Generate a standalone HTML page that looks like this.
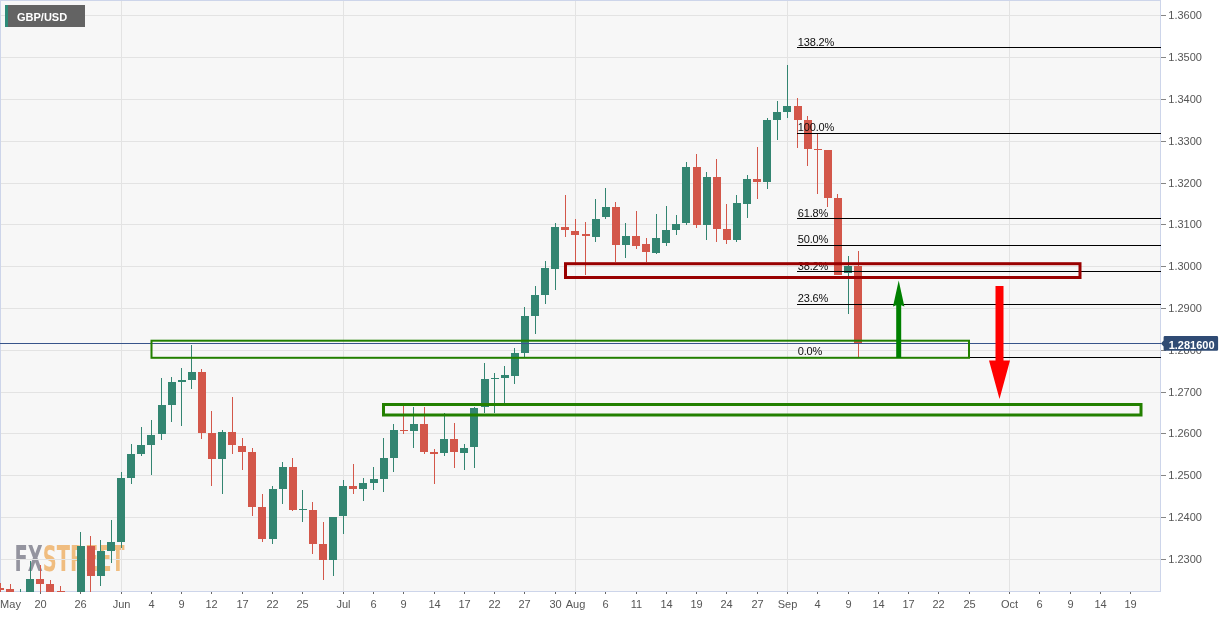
<!DOCTYPE html>
<html lang="en"><head><meta charset="utf-8"><title>GBP/USD daily chart</title>
<style>html,body{margin:0;padding:0;background:#fff}body{width:1231px;height:617px;overflow:hidden}svg{display:block}text{font-family:"Liberation Sans",Arial,sans-serif}</style></head><body>
<svg width="1231" height="617" viewBox="0 0 1231 617">
<defs><clipPath id="c"><rect x="0" y="0" width="1161" height="592"/></clipPath></defs>
<rect x="0" y="0" width="1231" height="617" fill="#fff"/>
<rect x="0" y="0" width="1161" height="592" fill="#f7f7f7"/>
<text transform="translate(14.6,571.3) scale(0.543,1)" font-family="DejaVu Sans, Liberation Sans, sans-serif" style="font-family:'DejaVu Sans','Liberation Sans',sans-serif" font-size="35.7" font-weight="700"><tspan fill="#94949f">FX</tspan><tspan fill="#f0bd80">STREET</tspan></text>
<g stroke="#e3e3e3" stroke-width="1" shape-rendering="crispEdges">
<line x1="0" y1="15.5" x2="1161" y2="15.5"/>
<line x1="0" y1="57.5" x2="1161" y2="57.5"/>
<line x1="0" y1="99.5" x2="1161" y2="99.5"/>
<line x1="0" y1="141.5" x2="1161" y2="141.5"/>
<line x1="0" y1="183.5" x2="1161" y2="183.5"/>
<line x1="0" y1="224.5" x2="1161" y2="224.5"/>
<line x1="0" y1="266.5" x2="1161" y2="266.5"/>
<line x1="0" y1="308.5" x2="1161" y2="308.5"/>
<line x1="0" y1="350.5" x2="1161" y2="350.5"/>
<line x1="0" y1="392.5" x2="1161" y2="392.5"/>
<line x1="0" y1="433.5" x2="1161" y2="433.5"/>
<line x1="0" y1="475.5" x2="1161" y2="475.5"/>
<line x1="0" y1="517.5" x2="1161" y2="517.5"/>
<line x1="0" y1="559.5" x2="1161" y2="559.5"/>
<line x1="121.5" y1="0" x2="121.5" y2="592"/>
<line x1="343.5" y1="0" x2="343.5" y2="592"/>
<line x1="575.5" y1="0" x2="575.5" y2="592"/>
<line x1="787.5" y1="0" x2="787.5" y2="592"/>
<line x1="1009.5" y1="0" x2="1009.5" y2="592"/>
</g>
<g stroke="#cdd5ea" stroke-width="1" fill="none" shape-rendering="crispEdges"><line x1="0" y1="0.5" x2="1161" y2="0.5"/><line x1="0.5" y1="0" x2="0.5" y2="592"/><line x1="1160.5" y1="0" x2="1160.5" y2="592"/><line x1="0" y1="591.5" x2="1161" y2="591.5"/></g>
<g clip-path="url(#c)" shape-rendering="crispEdges">
<rect x="0" y="583" width="1" height="17" fill="#d3574a"/>
<rect x="-4" y="588" width="8" height="2" fill="#d3574a"/>
<rect x="10" y="584" width="1" height="16" fill="#d3574a"/>
<rect x="6" y="589" width="8" height="11" fill="#d3574a"/>
<rect x="20" y="589" width="1" height="11" fill="#338571"/>
<rect x="16" y="596" width="8" height="4" fill="#338571"/>
<rect x="30" y="561" width="1" height="39" fill="#338571"/>
<rect x="26" y="579" width="8" height="21" fill="#338571"/>
<rect x="40" y="565" width="1" height="35" fill="#d3574a"/>
<rect x="36" y="579" width="8" height="5" fill="#d3574a"/>
<rect x="50" y="580" width="1" height="20" fill="#d3574a"/>
<rect x="46" y="584" width="8" height="8" fill="#d3574a"/>
<rect x="60" y="586" width="1" height="14" fill="#d3574a"/>
<rect x="57" y="591" width="8" height="9" fill="#d3574a"/>
<rect x="80" y="532" width="1" height="68" fill="#338571"/>
<rect x="77" y="546" width="8" height="54" fill="#338571"/>
<rect x="90" y="536" width="1" height="64" fill="#d3574a"/>
<rect x="87" y="546" width="8" height="30" fill="#d3574a"/>
<rect x="100" y="540" width="1" height="46" fill="#338571"/>
<rect x="97" y="551" width="8" height="25" fill="#338571"/>
<rect x="111" y="520" width="1" height="43" fill="#338571"/>
<rect x="107" y="542" width="8" height="9" fill="#338571"/>
<rect x="121" y="472" width="1" height="76" fill="#338571"/>
<rect x="117" y="478" width="8" height="64" fill="#338571"/>
<rect x="131" y="444" width="1" height="40" fill="#338571"/>
<rect x="127" y="454" width="8" height="24" fill="#338571"/>
<rect x="141" y="427" width="1" height="29" fill="#338571"/>
<rect x="137" y="445" width="8" height="9" fill="#338571"/>
<rect x="151" y="420" width="1" height="55" fill="#338571"/>
<rect x="147" y="435" width="8" height="10" fill="#338571"/>
<rect x="161" y="378" width="1" height="62" fill="#338571"/>
<rect x="158" y="405" width="8" height="29" fill="#338571"/>
<rect x="171" y="377" width="1" height="45" fill="#338571"/>
<rect x="168" y="382" width="8" height="23" fill="#338571"/>
<rect x="181" y="368" width="1" height="58" fill="#338571"/>
<rect x="178" y="380" width="8" height="2" fill="#338571"/>
<rect x="191" y="345" width="1" height="44" fill="#338571"/>
<rect x="188" y="372" width="8" height="8" fill="#338571"/>
<rect x="201" y="369" width="1" height="70" fill="#d3574a"/>
<rect x="198" y="372" width="8" height="61" fill="#d3574a"/>
<rect x="211" y="411" width="1" height="75" fill="#d3574a"/>
<rect x="208" y="433" width="8" height="26" fill="#d3574a"/>
<rect x="222" y="430" width="1" height="64" fill="#338571"/>
<rect x="218" y="432" width="8" height="27" fill="#338571"/>
<rect x="232" y="397" width="1" height="57" fill="#d3574a"/>
<rect x="228" y="432" width="8" height="13" fill="#d3574a"/>
<rect x="242" y="438" width="1" height="32" fill="#d3574a"/>
<rect x="238" y="446" width="8" height="6" fill="#d3574a"/>
<rect x="252" y="448" width="1" height="68" fill="#d3574a"/>
<rect x="248" y="452" width="8" height="55" fill="#d3574a"/>
<rect x="262" y="494" width="1" height="48" fill="#d3574a"/>
<rect x="258" y="507" width="8" height="32" fill="#d3574a"/>
<rect x="272" y="486" width="1" height="58" fill="#338571"/>
<rect x="269" y="489" width="8" height="50" fill="#338571"/>
<rect x="282" y="462" width="1" height="42" fill="#338571"/>
<rect x="279" y="467" width="8" height="22" fill="#338571"/>
<rect x="292" y="458" width="1" height="53" fill="#d3574a"/>
<rect x="289" y="467" width="8" height="43" fill="#d3574a"/>
<rect x="302" y="490" width="1" height="32" fill="#338571"/>
<rect x="299" y="509" width="8" height="1" fill="#338571"/>
<rect x="312" y="502" width="1" height="52" fill="#d3574a"/>
<rect x="309" y="510" width="8" height="34" fill="#d3574a"/>
<rect x="323" y="522" width="1" height="58" fill="#d3574a"/>
<rect x="319" y="544" width="8" height="16" fill="#d3574a"/>
<rect x="333" y="517" width="1" height="59" fill="#338571"/>
<rect x="329" y="517" width="8" height="43" fill="#338571"/>
<rect x="343" y="480" width="1" height="54" fill="#338571"/>
<rect x="339" y="486" width="8" height="30" fill="#338571"/>
<rect x="353" y="464" width="1" height="30" fill="#d3574a"/>
<rect x="349" y="486" width="8" height="3" fill="#d3574a"/>
<rect x="363" y="478" width="1" height="23" fill="#338571"/>
<rect x="359" y="483" width="8" height="6" fill="#338571"/>
<rect x="373" y="467" width="1" height="23" fill="#338571"/>
<rect x="370" y="479" width="8" height="4" fill="#338571"/>
<rect x="383" y="438" width="1" height="54" fill="#338571"/>
<rect x="380" y="458" width="8" height="21" fill="#338571"/>
<rect x="393" y="424" width="1" height="48" fill="#338571"/>
<rect x="390" y="430" width="8" height="28" fill="#338571"/>
<rect x="403" y="406" width="1" height="28" fill="#d3574a"/>
<rect x="400" y="430" width="8" height="1" fill="#d3574a"/>
<rect x="413" y="407" width="1" height="41" fill="#338571"/>
<rect x="410" y="424" width="8" height="7" fill="#338571"/>
<rect x="424" y="407" width="1" height="47" fill="#d3574a"/>
<rect x="420" y="424" width="8" height="28" fill="#d3574a"/>
<rect x="434" y="449" width="1" height="35" fill="#d3574a"/>
<rect x="430" y="452" width="8" height="2" fill="#d3574a"/>
<rect x="444" y="413" width="1" height="43" fill="#338571"/>
<rect x="440" y="439" width="8" height="14" fill="#338571"/>
<rect x="454" y="423" width="1" height="45" fill="#d3574a"/>
<rect x="450" y="439" width="8" height="13" fill="#d3574a"/>
<rect x="464" y="444" width="1" height="26" fill="#338571"/>
<rect x="460" y="448" width="8" height="5" fill="#338571"/>
<rect x="474" y="407" width="1" height="61" fill="#338571"/>
<rect x="470" y="408" width="8" height="39" fill="#338571"/>
<rect x="484" y="363" width="1" height="50" fill="#338571"/>
<rect x="481" y="379" width="8" height="28" fill="#338571"/>
<rect x="494" y="373" width="1" height="40" fill="#338571"/>
<rect x="491" y="378" width="8" height="1" fill="#338571"/>
<rect x="504" y="366" width="1" height="37" fill="#338571"/>
<rect x="501" y="375" width="8" height="3" fill="#338571"/>
<rect x="514" y="348" width="1" height="36" fill="#338571"/>
<rect x="511" y="353" width="8" height="23" fill="#338571"/>
<rect x="524" y="307" width="1" height="50" fill="#338571"/>
<rect x="521" y="316" width="8" height="37" fill="#338571"/>
<rect x="535" y="286" width="1" height="48" fill="#338571"/>
<rect x="531" y="295" width="8" height="21" fill="#338571"/>
<rect x="545" y="261" width="1" height="43" fill="#338571"/>
<rect x="541" y="268" width="8" height="27" fill="#338571"/>
<rect x="555" y="223" width="1" height="67" fill="#338571"/>
<rect x="551" y="227" width="8" height="42" fill="#338571"/>
<rect x="565" y="195" width="1" height="42" fill="#d3574a"/>
<rect x="561" y="227" width="8" height="3" fill="#d3574a"/>
<rect x="575" y="219" width="1" height="44" fill="#d3574a"/>
<rect x="571" y="231" width="8" height="4" fill="#d3574a"/>
<rect x="585" y="222" width="1" height="53" fill="#d3574a"/>
<rect x="582" y="234" width="8" height="2" fill="#d3574a"/>
<rect x="595" y="199" width="1" height="43" fill="#338571"/>
<rect x="592" y="219" width="8" height="18" fill="#338571"/>
<rect x="605" y="188" width="1" height="31" fill="#338571"/>
<rect x="602" y="207" width="8" height="10" fill="#338571"/>
<rect x="615" y="202" width="1" height="60" fill="#d3574a"/>
<rect x="612" y="207" width="8" height="38" fill="#d3574a"/>
<rect x="625" y="223" width="1" height="35" fill="#338571"/>
<rect x="622" y="236" width="8" height="9" fill="#338571"/>
<rect x="636" y="211" width="1" height="38" fill="#d3574a"/>
<rect x="632" y="236" width="8" height="10" fill="#d3574a"/>
<rect x="646" y="238" width="1" height="24" fill="#d3574a"/>
<rect x="642" y="244" width="8" height="8" fill="#d3574a"/>
<rect x="656" y="214" width="1" height="40" fill="#338571"/>
<rect x="652" y="238" width="8" height="15" fill="#338571"/>
<rect x="666" y="206" width="1" height="40" fill="#338571"/>
<rect x="662" y="230" width="8" height="13" fill="#338571"/>
<rect x="676" y="215" width="1" height="20" fill="#338571"/>
<rect x="672" y="224" width="8" height="6" fill="#338571"/>
<rect x="686" y="162" width="1" height="63" fill="#338571"/>
<rect x="682" y="167" width="8" height="56" fill="#338571"/>
<rect x="696" y="154" width="1" height="74" fill="#d3574a"/>
<rect x="693" y="167" width="8" height="58" fill="#d3574a"/>
<rect x="706" y="172" width="1" height="68" fill="#338571"/>
<rect x="703" y="177" width="8" height="48" fill="#338571"/>
<rect x="716" y="159" width="1" height="83" fill="#d3574a"/>
<rect x="713" y="177" width="8" height="52" fill="#d3574a"/>
<rect x="726" y="204" width="1" height="40" fill="#d3574a"/>
<rect x="723" y="229" width="8" height="11" fill="#d3574a"/>
<rect x="736" y="195" width="1" height="47" fill="#338571"/>
<rect x="733" y="203" width="8" height="37" fill="#338571"/>
<rect x="747" y="175" width="1" height="43" fill="#338571"/>
<rect x="743" y="179" width="8" height="25" fill="#338571"/>
<rect x="757" y="147" width="1" height="52" fill="#d3574a"/>
<rect x="753" y="179" width="8" height="3" fill="#d3574a"/>
<rect x="767" y="118" width="1" height="71" fill="#338571"/>
<rect x="763" y="120" width="8" height="62" fill="#338571"/>
<rect x="777" y="101" width="1" height="39" fill="#338571"/>
<rect x="773" y="112" width="8" height="8" fill="#338571"/>
<rect x="787" y="65" width="1" height="53" fill="#338571"/>
<rect x="783" y="106" width="8" height="6" fill="#338571"/>
<rect x="797" y="98" width="1" height="50" fill="#d3574a"/>
<rect x="794" y="106" width="8" height="14" fill="#d3574a"/>
<rect x="807" y="116" width="1" height="50" fill="#d3574a"/>
<rect x="804" y="120" width="8" height="29" fill="#d3574a"/>
<rect x="817" y="134" width="1" height="60" fill="#d3574a"/>
<rect x="814" y="149" width="8" height="1" fill="#d3574a"/>
<rect x="827" y="150" width="1" height="57" fill="#d3574a"/>
<rect x="824" y="150" width="8" height="48" fill="#d3574a"/>
<rect x="837" y="194" width="1" height="81" fill="#d3574a"/>
<rect x="834" y="198" width="8" height="77" fill="#d3574a"/>
<rect x="848" y="256" width="1" height="58" fill="#338571"/>
<rect x="844" y="266" width="8" height="7" fill="#338571"/>
<rect x="858" y="251" width="1" height="106" fill="#d3574a"/>
<rect x="854" y="266" width="8" height="77" fill="#d3574a"/>
</g>
<g shape-rendering="crispEdges" stroke="#000" stroke-width="1">
<line x1="797" y1="47.5" x2="1161" y2="47.5"/>
<line x1="797" y1="133.5" x2="1161" y2="133.5"/>
<line x1="797" y1="218.5" x2="1161" y2="218.5"/>
<line x1="797" y1="245.5" x2="1161" y2="245.5"/>
<line x1="797" y1="271.5" x2="1161" y2="271.5"/>
<line x1="797" y1="304.5" x2="1161" y2="304.5"/>
<line x1="797" y1="357.5" x2="1161" y2="357.5"/>
</g>
<g font-size="11" fill="#0d0d0d" letter-spacing="-0.12">
<text x="797.7" y="45.8">138.2%</text>
<text x="797.7" y="130.9">100.0%</text>
<text x="797.7" y="217.0">61.8%</text>
<text x="797.7" y="242.7">50.0%</text>
<text x="797.7" y="269.9">38.2%</text>
<text x="797.7" y="301.9">23.6%</text>
<text x="797.7" y="355.0">0.0%</text>
</g>
<line x1="0" y1="343.5" x2="1161" y2="343.5" stroke="#37548a" stroke-width="1" shape-rendering="crispEdges"/>
<rect x="151.5" y="340.7" width="817.5" height="17.1" fill="none" stroke="#238000" stroke-width="2"/>
<rect x="383.5" y="404.5" width="757.5" height="10.5" fill="none" stroke="#238000" stroke-width="3"/>
<rect x="565.5" y="263.7" width="514.5" height="13.8" fill="none" stroke="#990000" stroke-width="3"/>
<path d="M896.2 358 L896.2 305.2 L893 306.6 L898.7 280.4 L904.4 306.6 L901.2 305.2 L901.2 358 Z" fill="#008000"/>
<path d="M995.5 286 L1003.5 286 L1003.5 360.6 L1010 360.6 L999.5 399 L989 360.6 L995.5 360.6 Z" fill="#ff0000"/>
<g stroke="#858585" stroke-width="1" shape-rendering="crispEdges">
<line x1="1161" y1="15.5" x2="1166" y2="15.5"/>
<line x1="1161" y1="57.5" x2="1166" y2="57.5"/>
<line x1="1161" y1="99.5" x2="1166" y2="99.5"/>
<line x1="1161" y1="141.5" x2="1166" y2="141.5"/>
<line x1="1161" y1="183.5" x2="1166" y2="183.5"/>
<line x1="1161" y1="224.5" x2="1166" y2="224.5"/>
<line x1="1161" y1="266.5" x2="1166" y2="266.5"/>
<line x1="1161" y1="308.5" x2="1166" y2="308.5"/>
<line x1="1161" y1="350.5" x2="1166" y2="350.5"/>
<line x1="1161" y1="392.5" x2="1166" y2="392.5"/>
<line x1="1161" y1="433.5" x2="1166" y2="433.5"/>
<line x1="1161" y1="475.5" x2="1166" y2="475.5"/>
<line x1="1161" y1="517.5" x2="1166" y2="517.5"/>
<line x1="1161" y1="559.5" x2="1166" y2="559.5"/>
</g>
<g stroke="#666" stroke-width="1" shape-rendering="crispEdges">
<line x1="40.5" y1="592" x2="40.5" y2="594"/>
<line x1="80.5" y1="592" x2="80.5" y2="594"/>
<line x1="121.5" y1="592" x2="121.5" y2="594"/>
<line x1="151.5" y1="592" x2="151.5" y2="594"/>
<line x1="181.5" y1="592" x2="181.5" y2="594"/>
<line x1="211.5" y1="592" x2="211.5" y2="594"/>
<line x1="242.5" y1="592" x2="242.5" y2="594"/>
<line x1="272.5" y1="592" x2="272.5" y2="594"/>
<line x1="302.5" y1="592" x2="302.5" y2="594"/>
<line x1="343.5" y1="592" x2="343.5" y2="594"/>
<line x1="373.5" y1="592" x2="373.5" y2="594"/>
<line x1="403.5" y1="592" x2="403.5" y2="594"/>
<line x1="434.5" y1="592" x2="434.5" y2="594"/>
<line x1="464.5" y1="592" x2="464.5" y2="594"/>
<line x1="494.5" y1="592" x2="494.5" y2="594"/>
<line x1="524.5" y1="592" x2="524.5" y2="594"/>
<line x1="555.5" y1="592" x2="555.5" y2="594"/>
<line x1="575.5" y1="592" x2="575.5" y2="594"/>
<line x1="605.5" y1="592" x2="605.5" y2="594"/>
<line x1="636.5" y1="592" x2="636.5" y2="594"/>
<line x1="666.5" y1="592" x2="666.5" y2="594"/>
<line x1="696.5" y1="592" x2="696.5" y2="594"/>
<line x1="726.5" y1="592" x2="726.5" y2="594"/>
<line x1="757.5" y1="592" x2="757.5" y2="594"/>
<line x1="787.5" y1="592" x2="787.5" y2="594"/>
<line x1="817.5" y1="592" x2="817.5" y2="594"/>
<line x1="848.5" y1="592" x2="848.5" y2="594"/>
<line x1="878.5" y1="592" x2="878.5" y2="594"/>
<line x1="908.5" y1="592" x2="908.5" y2="594"/>
<line x1="938.5" y1="592" x2="938.5" y2="594"/>
<line x1="969.5" y1="592" x2="969.5" y2="594"/>
<line x1="1009.5" y1="592" x2="1009.5" y2="594"/>
<line x1="1039.5" y1="592" x2="1039.5" y2="594"/>
<line x1="1070.5" y1="592" x2="1070.5" y2="594"/>
<line x1="1100.5" y1="592" x2="1100.5" y2="594"/>
<line x1="1130.5" y1="592" x2="1130.5" y2="594"/>
</g>
<g font-size="11" fill="#555">
<text x="1168.3" y="19.4">1.3600</text>
<text x="1168.3" y="61.4">1.3500</text>
<text x="1168.3" y="103.4">1.3400</text>
<text x="1168.3" y="145.4">1.3300</text>
<text x="1168.3" y="187.4">1.3200</text>
<text x="1168.3" y="228.4">1.3100</text>
<text x="1168.3" y="270.4">1.3000</text>
<text x="1168.3" y="312.4">1.2900</text>
<text x="1168.3" y="354.4">1.2800</text>
<text x="1168.3" y="396.4">1.2700</text>
<text x="1168.3" y="437.4">1.2600</text>
<text x="1168.3" y="479.4">1.2500</text>
<text x="1168.3" y="521.4">1.2400</text>
<text x="1168.3" y="563.4">1.2300</text>
</g>
<g font-size="11" fill="#555" text-anchor="middle">
<text x="10.5" y="607.6">May</text>
<text x="40.5" y="607.6">20</text>
<text x="80.5" y="607.6">26</text>
<text x="121.5" y="607.6">Jun</text>
<text x="151.5" y="607.6">4</text>
<text x="181.5" y="607.6">9</text>
<text x="211.5" y="607.6">12</text>
<text x="242.5" y="607.6">17</text>
<text x="272.5" y="607.6">22</text>
<text x="302.5" y="607.6">25</text>
<text x="343.5" y="607.6">Jul</text>
<text x="373.5" y="607.6">6</text>
<text x="403.5" y="607.6">9</text>
<text x="434.5" y="607.6">14</text>
<text x="464.5" y="607.6">17</text>
<text x="494.5" y="607.6">22</text>
<text x="524.5" y="607.6">27</text>
<text x="555.5" y="607.6">30</text>
<text x="575.5" y="607.6">Aug</text>
<text x="605.5" y="607.6">6</text>
<text x="636.5" y="607.6">11</text>
<text x="666.5" y="607.6">14</text>
<text x="696.5" y="607.6">19</text>
<text x="726.5" y="607.6">24</text>
<text x="757.5" y="607.6">27</text>
<text x="787.5" y="607.6">Sep</text>
<text x="817.5" y="607.6">4</text>
<text x="848.5" y="607.6">9</text>
<text x="878.5" y="607.6">14</text>
<text x="908.5" y="607.6">17</text>
<text x="938.5" y="607.6">22</text>
<text x="969.5" y="607.6">25</text>
<text x="1009.5" y="607.6">Oct</text>
<text x="1039.5" y="607.6">6</text>
<text x="1070.5" y="607.6">9</text>
<text x="1100.5" y="607.6">14</text>
<text x="1130.5" y="607.6">19</text>
</g>
<path d="M1161 343.5 L1163.6 340.5 L1163.6 337.4 Q1163.6 336.1 1164.9 336.1 L1216.8 336.1 Q1218.1 336.1 1218.1 337.4 L1218.1 349.4 Q1218.1 350.7 1216.8 350.7 L1164.9 350.7 Q1163.6 350.7 1163.6 349.4 L1163.6 346.5 Z" fill="#2f4b74"/>
<text x="1168.7" y="348.9" font-size="11" font-weight="700" fill="#fff">1.281600</text>
<rect x="5" y="5" width="80" height="22" fill="#636363"/><rect x="5" y="5" width="3" height="22" fill="#2e8b78"/>
<text x="17" y="21.1" font-size="11" font-weight="700" fill="#fff">GBP/USD</text>
</svg></body></html>
